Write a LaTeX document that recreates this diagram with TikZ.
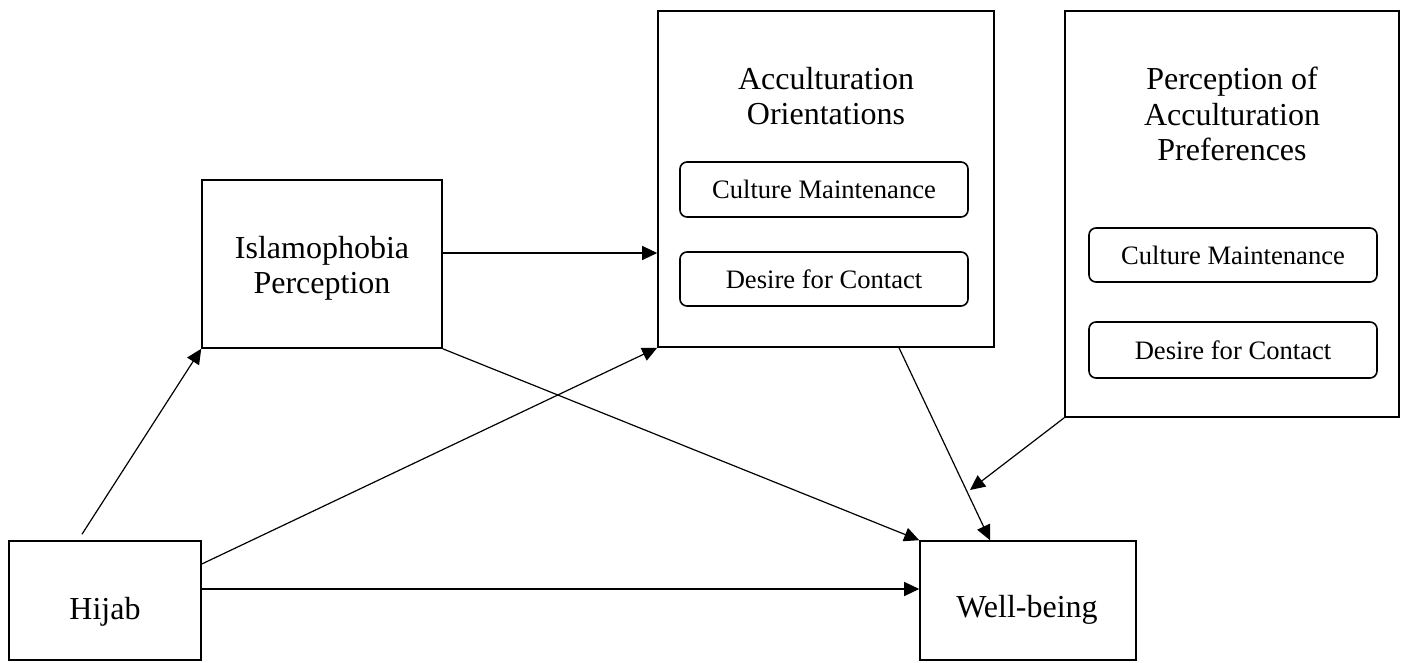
\documentclass[tikz,border=0pt]{standalone}
\usepackage{fontspec}
\setmainfont{Liberation Serif}
\usetikzlibrary{arrows.meta}

\begin{document}
\begin{tikzpicture}[x=1pt,y=1pt,
  box/.style={draw,line width=1.6pt,inner sep=0pt},
  subbox/.style={draw,line width=1.6pt,rounded corners=7pt,minimum width=288pt,inner sep=0pt,font=\fontsize{26.6}{30}\selectfont},
  txt/.style={inner sep=0pt,align=center,font=\fontsize{32}{35.5}\selectfont},
  link/.style={line width=1.2pt,-{Triangle[length=15pt,width=14pt]}}]
\useasboundingbox (0,0) rectangle (1405,662);
\node[box,minimum width=192pt,minimum height=119pt] (hijab) at (105,61.5) {};
\node[txt,anchor=base] (hijabtxt) at (105,43) {Hijab};
\node[box,minimum width=216pt,minimum height=119pt] (wb) at (1028,61.5) {};
\node[txt,anchor=base] (wbtxt) at (1027,45) {Well-being};
\node[box,minimum width=240pt,minimum height=168pt] (isl) at (322,398) {};
\node[txt,anchor=north] (isltxt) at (322,426) {Islamophobia\\Perception};
\node[box,minimum width=336pt,minimum height=336pt] (acc) at (826,483) {};
\node[txt,anchor=north] (acctxt) at (826,595) {Acculturation\\Orientations};
\node[subbox,minimum height=55pt] (acccm) at (824,472.5) {Culture Maintenance};
\node[subbox,minimum height=54pt] (accdc) at (824,383) {Desire for Contact};
\node[box,minimum width=334pt,minimum height=406pt] (per) at (1232,448) {};
\node[txt,anchor=north] (pertxt) at (1232,595) {Perception of\\Acculturation\\Preferences};
\node[subbox,minimum height=54pt] (percm) at (1233,407) {Culture Maintenance};
\node[subbox,minimum height=56pt] (perdc) at (1233,312) {Desire for Contact};
\coordinate (pend) at (970,172);
\draw[link] ([xshift=-23pt,yshift=6pt]hijab.north) -- (isl.south west);
\draw[link] ([yshift=36.5pt]hijab.east) -- (acc.south west);
\draw[link] ([yshift=11.5pt]hijab.east) -- ([yshift=11.5pt]wb.west);
\draw[link] ([yshift=11pt]isl.east) -- ([yshift=-74pt]acc.west);
\draw[link] (isl.south east) -- (wb.north west);
\draw[link] ([xshift=73pt]acc.south) -- ([xshift=-38pt]wb.north);
\draw[link] (per.south west) -- (pend);
\end{tikzpicture}
\end{document}
